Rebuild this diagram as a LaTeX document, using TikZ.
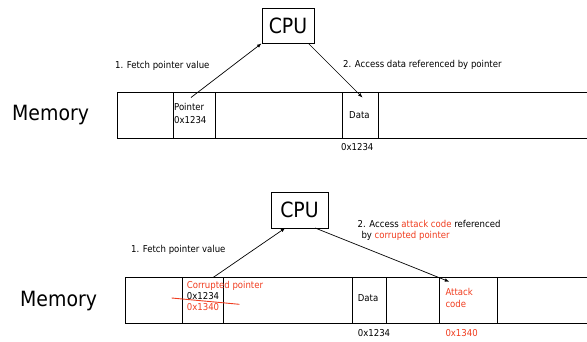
\documentclass[tikz,border=0pt]{standalone}
\usepackage{fontspec}
\setmainfont{DejaVu Sans Condensed}
\usetikzlibrary{arrows.meta,calc}
\definecolor{hot}{RGB}{240,60,30}
\begin{document}
\begin{tikzpicture}[x=1pt,y=-1pt,
  line/.style={draw,line width=0.9pt},
  small/.style={font=\fontsize{9.5}{11}\selectfont, inner sep=0pt, anchor=west, align=left},
  big/.style={font=\fontsize{21}{24}\selectfont, inner sep=0pt, anchor=west},
  cpubox/.style={draw, line width=0.9pt, font=\fontsize{21}{24}\selectfont, inner sep=0pt},
  arr/.style={-{Latex[length=4.5pt,width=3.5pt]}, line width=0.7pt},
  strike/.style={draw=hot, line width=0.9pt}]
\useasboundingbox (0,0) rectangle (587,341);

% ---------- top diagram ----------
\node[big] (mem1) at (12,115) {Memory};
\path[line] (587,92.5) -- (117,92.5) -- (117,138.5) -- (587,138.5);
\foreach \x in {173,215,342,378} \path[line] (\x,92.5) -- (\x,138.5);
\node[cpubox, minimum width=52pt, minimum height=35pt] (cpu1) at (288,25.5) {CPU};
\coordinate (p1) at (191,97.5);
\coordinate (d1) at (362.5,97.5);
\draw[arr] (p1) -- (cpu1.south west);
\draw[arr] ($(cpu1.south east)+(-6,0)$) -- (d1);
\node[small] (f1) at (115,66) {1. Fetch pointer value};
\node[small] (a1) at (343,65) {2. Access data referenced by pointer};
\node[small, font=\fontsize{9.5}{12.6}\selectfont] (ptr1) at (174,113.3) {Pointer\\0x1234};
\node[small] (data1) at (349,115.5) {Data};
\node[small] (addr1) at (341,147.3) {0x1234};

% ---------- bottom diagram ----------
\node[big] (mem2) at (20,301) {Memory};
\path[line] (587,277) -- (125,277) -- (125,323) -- (587,323);
\foreach \x in {182.3,223.5,352,386.2,439,497} \path[line] (\x,277) -- (\x,323);
\node[cpubox, minimum width=57pt, minimum height=36pt] (cpu2) at (299.5,210) {CPU};
\coordinate (p2) at (213.4,277.3);
\coordinate (c2) at (285.3,228);
\coordinate (s2) at (315.2,228);
\coordinate (t2) at (449.3,281.7);
\draw[arr] (p2) -- (c2);
\draw[arr] (s2) -- (t2);
\node[small] (f2) at (131,250) {1. Fetch pointer value};
\node[small, font=\fontsize{9.5}{11.3}\selectfont] (a2) at (357.5,230.6) {2. Access \textcolor{hot}{attack code} referenced\\\hspace*{3.8pt}by \textcolor{hot}{corrupted pointer}};
\node[small] (ptr2) at (186.7,296.2) {\textcolor{hot}{Corrupted pointer}\\0x1234\\\textcolor{hot}{0x1340}};
\coordinate (k1) at (171.7,298);
\coordinate (k2) at (239.3,304.3);
\path[strike] (k1) -- (k2);
\node[small] (data2) at (357.7,298.3) {Data};
\node[small, font=\fontsize{9.5}{12}\selectfont, text=hot] (atk) at (445.3,298.3) {Attack\\code};
\node[small] (addr2) at (357.7,333.3) {0x1234};
\node[small, text=hot] (addr3) at (445.3,333.3) {0x1340};
\end{tikzpicture}
\end{document}
